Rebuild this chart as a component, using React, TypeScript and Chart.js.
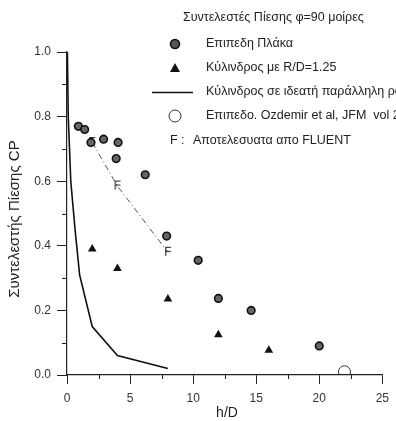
import React, { useEffect, useRef } from "react";
import { Chart, registerables } from "chart.js";

Chart.register(...registerables);

const flatPlateX = [0.9, 1.4, 1.9, 2.9, 4.05, 3.9, 6.2, 7.9, 10.4, 12.0, 14.6, 20.0];
const flatPlateY = [0.77, 0.76, 0.72, 0.73, 0.72, 0.67, 0.62, 0.43, 0.355, 0.237, 0.2, 0.09];
const cylinderX = [2, 4, 8, 12, 16];
const cylinderY = [0.39, 0.33, 0.235, 0.125, 0.077];
const idealX = [0.03, 0.1, 0.3, 0.64, 1, 2, 4, 8];
const idealY = [1.0, 0.8, 0.6, 0.45, 0.31, 0.15, 0.06, 0.02];
const ozdemirX = [22];
const ozdemirY = [0.01];
const fluentX = [2, 4, 8];
const fluentY = [0.72, 0.585, 0.38];

const legendTitle = "Συντελεστές Πίεσης φ=90 μοίρες";
const legendLabels = [
  "Επιπεδη Πλάκα",
  "Κύλινδρος με R/D=1.25",
  "Κύλινδρος σε ιδεατή παράλληλη ροή",
  "Επιπεδο. Ozdemir et al, JFM  vol 23",
  "Αποτελεσυατα απο FLUENT",
];
const xTitle = "h/D";
const yTitle = "Συντελεστής Πίεσης CP";
const yMinorTicks = [0.1, 0.3, 0.5, 0.7, 0.9];
const xMinorTicks = [2.5, 7.5, 12.5, 17.5, 22.5];

const FONT = "'Liberation Sans', Arial, sans-serif";

function pts(xs: number[], ys: number[]) {
  return xs.map((x, i) => ({ x, y: ys[i] }));
}

function makeF(): HTMLCanvasElement {
  const c = document.createElement("canvas");
  c.width = 10;
  c.height = 13;
  const g = c.getContext("2d")!;
  g.fillStyle = "#222";
  g.font = `12px ${FONT}`;
  g.textAlign = "center";
  g.textBaseline = "middle";
  g.fillText("F", 5, 7);
  return c;
}

export default function App() {
  const ref = useRef<HTMLCanvasElement | null>(null);

  useEffect(() => {
    if (!ref.current) return;
    const fImg = makeF();

    const decor = {
      id: "decor",
      afterDraw(chart: any) {
        const ctx = chart.ctx as CanvasRenderingContext2D;
        const xs = chart.scales.x;
        const ys = chart.scales.y;
        ctx.save();
        ctx.strokeStyle = "#222";
        ctx.lineWidth = 1;
        const left = xs.left;
        const bottom = ys.bottom;
        yMinorTicks.forEach((v) => {
          const py = Math.round(ys.getPixelForValue(v)) + 0.5;
          ctx.beginPath();
          ctx.moveTo(left - 5, py);
          ctx.lineTo(left, py);
          ctx.stroke();
        });
        xMinorTicks.forEach((v) => {
          const px = Math.round(xs.getPixelForValue(v)) + 0.5;
          ctx.beginPath();
          ctx.moveTo(px, bottom);
          ctx.lineTo(px, bottom + 4);
          ctx.stroke();
        });
        // axis titles
        ctx.fillStyle = "#222";
        ctx.font = `14px ${FONT}`;
        ctx.textAlign = "center";
        ctx.textBaseline = "middle";
        ctx.fillText(xTitle, 227, 413);
        ctx.save();
        ctx.translate(15, 219);
        ctx.rotate(-Math.PI / 2);
        ctx.font = `15px ${FONT}`;
        ctx.fillText(yTitle, 0, 0);
        ctx.restore();
        // legend
        ctx.textAlign = "left";
        ctx.fillStyle = "#222";
        ctx.font = `12.5px ${FONT}`;
        ctx.fillText(legendTitle, 183, 18);
        const rows = [44, 68, 92, 116];
        const mx = 175;
        const tx = 206;
        ctx.beginPath();
        ctx.arc(mx, rows[0], 4.5, 0, Math.PI * 2);
        ctx.fillStyle = "#555";
        ctx.fill();
        ctx.lineWidth = 1.6;
        ctx.strokeStyle = "#111";
        ctx.stroke();
        ctx.beginPath();
        ctx.moveTo(mx, rows[1] - 5);
        ctx.lineTo(mx + 5, rows[1] + 4);
        ctx.lineTo(mx - 5, rows[1] + 4);
        ctx.closePath();
        ctx.fillStyle = "#111";
        ctx.fill();
        ctx.beginPath();
        ctx.moveTo(152, rows[2] + 0.5);
        ctx.lineTo(193, rows[2] + 0.5);
        ctx.strokeStyle = "#111";
        ctx.lineWidth = 1.3;
        ctx.stroke();
        ctx.beginPath();
        ctx.arc(mx, rows[3], 6, 0, Math.PI * 2);
        ctx.strokeStyle = "#333";
        ctx.lineWidth = 1;
        ctx.stroke();
        ctx.fillStyle = "#222";
        ctx.font = `12.5px ${FONT}`;
        for (let i = 0; i < 4; i++) ctx.fillText(legendLabels[i], tx, rows[i]);
        ctx.fillText("F :", 170, 141);
        ctx.fillText(legendLabels[4], 193, 141);
        ctx.restore();
      },
    };

    const chart = new Chart(ref.current, {
      type: "scatter",
      data: {
        datasets: [
          {
            label: legendLabels[0],
            data: pts(flatPlateX, flatPlateY),
            pointStyle: "circle",
            pointRadius: 3.8,
            backgroundColor: "#666",
            borderColor: "#111",
            borderWidth: 1.6,
          },
          {
            label: legendLabels[1],
            data: pts(cylinderX, cylinderY),
            pointStyle: "triangle",
            pointRadius: 5,
            backgroundColor: "#111",
            borderColor: "#111",
            borderWidth: 0,
          },
          {
            label: legendLabels[2],
            data: pts(idealX, idealY),
            showLine: true,
            pointRadius: 0,
            borderColor: "#111",
            borderWidth: 1.6,
            tension: 0,
          },
          {
            label: legendLabels[3],
            data: pts(ozdemirX, ozdemirY),
            pointStyle: "circle",
            pointRadius: 6,
            backgroundColor: "rgba(255,255,255,0)",
            borderColor: "#333",
            borderWidth: 1,
          },
          {
            label: legendLabels[4],
            data: pts(fluentX, fluentY),
            showLine: true,
            pointStyle: fImg as any,
            borderColor: "#555",
            borderWidth: 1,
            borderDash: [6, 3, 1, 3],
            backgroundColor: "#555",
          },
        ],
      },
      options: {
        animation: false,
        responsive: false,
        maintainAspectRatio: false,
        layout: { padding: { left: 0, top: 52, right: 7, bottom: 0 } },
        plugins: {
          legend: { display: false },
          tooltip: { enabled: false },
          title: { display: false },
        },
        scales: {
          x: {
            type: "linear",
            min: 0,
            max: 25,
            afterFit: (s: any) => {
              s.height = 46;
            },
            ticks: {
              stepSize: 5,
              color: "#333",
              font: { family: FONT, size: 12 },
              padding: 7,
            },
            grid: {
              drawOnChartArea: false,
              drawTicks: true,
              tickLength: 9,
              color: "#222",
            },
            border: { display: true, color: "#222", width: 1.2 },
          },
          y: {
            type: "linear",
            min: 0,
            max: 1,
            afterFit: (s: any) => {
              s.width = 67;
            },
            ticks: {
              stepSize: 0.2,
              color: "#333",
              font: { family: FONT, size: 12 },
              padding: 6,
              callback: (v: any) => Number(v).toFixed(1),
            },
            grid: {
              drawOnChartArea: false,
              drawTicks: true,
              tickLength: 10,
              color: "#222",
            },
            border: { display: true, color: "#222", width: 1.2 },
          },
        },
      },
      plugins: [decor],
    });
    return () => chart.destroy();
  }, []);

  return (
    <div style={{ position: "fixed", left: 0, top: 0, width: 396, height: 421, background: "#fff" }}>
      <canvas ref={ref} width={396} height={421} style={{ width: 396, height: 421 }} />
    </div>
  );
}
